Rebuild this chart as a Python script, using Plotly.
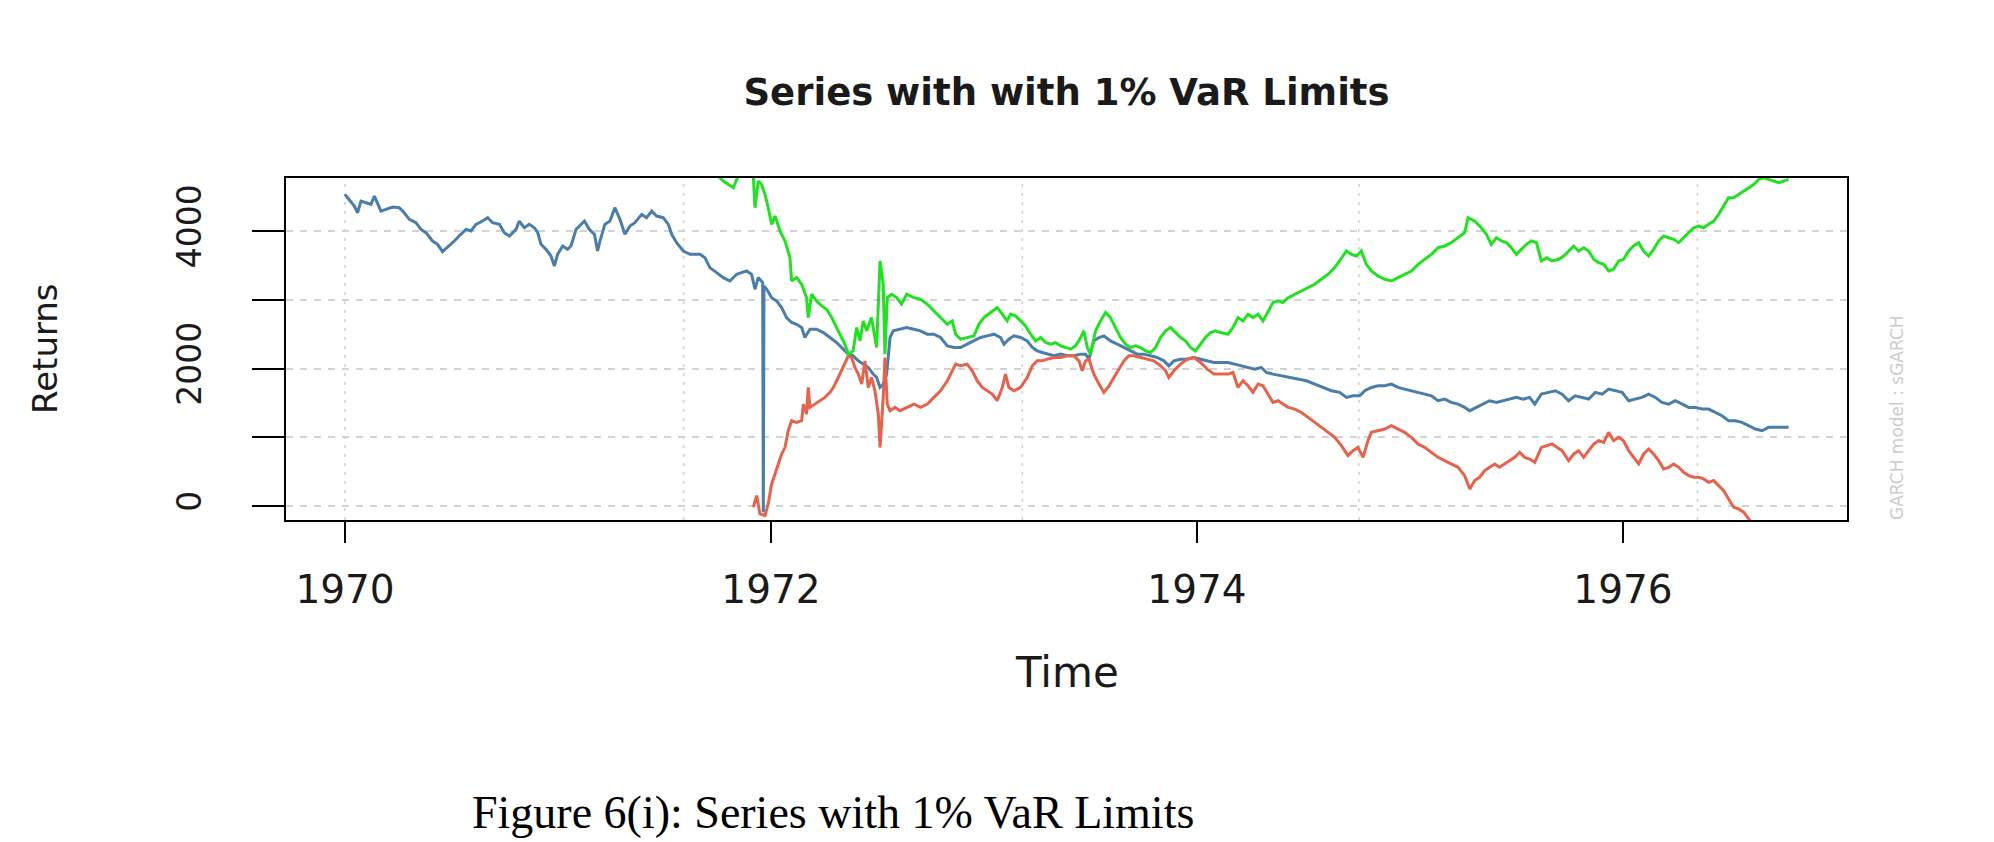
import plotly.graph_objects as go

# ---------------- data ----------------
series_time = [1970.000, 1970.020, 1970.044, 1970.059, 1970.075, 1970.099, 1970.122, 1970.138, 1970.169, 1970.192,
               1970.224, 1970.255, 1970.278, 1970.302, 1970.333, 1970.357, 1970.380, 1970.411, 1970.435, 1970.458,
               1970.490, 1970.513, 1970.536, 1970.568, 1970.591, 1970.615, 1970.646, 1970.670, 1970.693, 1970.725,
               1970.748, 1970.772, 1970.803, 1970.818, 1970.842, 1970.865, 1970.889, 1970.905, 1970.920, 1970.944,
               1970.967, 1970.983, 1970.998, 1971.022, 1971.045, 1971.061, 1971.085, 1971.108, 1971.124, 1971.147,
               1971.171, 1971.186,
               1971.197, 1971.220, 1971.244, 1971.267, 1971.291, 1971.314, 1971.338, 1971.361, 1971.393, 1971.416,
               1971.440, 1971.463, 1971.494, 1971.518, 1971.534, 1971.557, 1971.588, 1971.620, 1971.667, 1971.690,
               1971.713, 1971.745, 1971.776, 1971.807, 1971.839, 1971.862, 1971.886, 1971.909, 1971.925, 1971.940,
               1971.961, 1971.964, 1971.967, 1971.980, 1972.003, 1972.026, 1972.050, 1972.073, 1972.097, 1972.120,
               1972.144, 1972.159, 1972.183, 1972.214, 1972.246, 1972.277, 1972.308, 1972.339, 1972.363, 1972.386,
               1972.410, 1972.433, 1972.457, 1972.480, 1972.496, 1972.512, 1972.527, 1972.543, 1972.559, 1972.574,
               1972.606, 1972.637,
               1972.671, 1972.702, 1972.734, 1972.765, 1972.796, 1972.828, 1972.859, 1972.890, 1972.921, 1972.953,
               1972.984, 1973.015, 1973.047, 1973.078, 1973.094, 1973.117, 1973.141, 1973.172, 1973.203, 1973.227,
               1973.250, 1973.274, 1973.297, 1973.328, 1973.360, 1973.391, 1973.422, 1973.454, 1973.477, 1973.493,
               1973.516, 1973.540, 1973.563, 1973.594, 1973.626, 1973.657, 1973.688, 1973.720, 1973.751, 1973.782,
               1973.813, 1973.845, 1973.868, 1973.892, 1973.923, 1973.954, 1973.986, 1974.017, 1974.048, 1974.080,
               1974.111,
               1974.146, 1974.177, 1974.209, 1974.240, 1974.271, 1974.302, 1974.326, 1974.357, 1974.396, 1974.436,
               1974.475, 1974.514, 1974.553, 1974.592, 1974.631, 1974.670, 1974.702, 1974.733, 1974.764, 1974.788,
               1974.819, 1974.850, 1974.882, 1974.913, 1974.944, 1974.975, 1975.007, 1975.038, 1975.069, 1975.101,
               1975.132, 1975.163, 1975.194, 1975.226, 1975.257, 1975.281, 1975.312, 1975.343, 1975.374, 1975.406,
               1975.437, 1975.468, 1975.500, 1975.531, 1975.562, 1975.586, 1975.617,
               1975.651, 1975.683, 1975.714, 1975.745, 1975.776, 1975.808, 1975.839, 1975.870, 1975.902, 1975.933,
               1975.964, 1975.996, 1976.027, 1976.058, 1976.089, 1976.121, 1976.152, 1976.183, 1976.215, 1976.246,
               1976.277, 1976.309, 1976.340, 1976.371, 1976.402, 1976.434, 1976.465, 1976.496, 1976.528, 1976.559,
               1976.590, 1976.622, 1976.653, 1976.684, 1976.715, 1976.747, 1976.778]
series_values = [4533, 4461, 4364, 4267, 4436, 4412, 4388, 4509, 4291, 4315,
                 4349, 4340, 4267, 4170, 4122, 4025, 3977, 3856, 3808, 3701,
                 3783, 3856, 3928, 4025, 4001, 4098, 4146, 4195, 4122, 4098,
                 3977, 3928, 4025, 4146, 4049, 4098, 4049, 3977, 3808, 3735,
                 3638, 3493, 3662, 3783, 3735, 3783, 4025, 4098, 4146, 4025,
                 3953, 3711,
                 3856, 4098, 4146, 4340, 4170, 3953, 4074, 4122, 4243, 4195,
                 4291, 4219, 4195, 4098, 3953, 3832, 3711, 3662, 3662, 3614,
                 3469, 3396, 3324, 3275, 3372, 3396, 3420, 3372, 3154, 3324,
                 3251, -87, 3203, 3154, 3033, 2985, 2888, 2743, 2671, 2646,
                 2598, 2453, 2574, 2574, 2525, 2453, 2380, 2284, 2211, 2187,
                 2114, 2066, 2017, 1921, 1872, 1727, 1776, 1921, 2453, 2550,
                 2574, 2598,
                 2574, 2550, 2501, 2501, 2453, 2332, 2308, 2308, 2356, 2404,
                 2453, 2477, 2501, 2453, 2356, 2429, 2477, 2453, 2404, 2308,
                 2259, 2235, 2211, 2187, 2211, 2187, 2187, 2211, 2211, 2138,
                 2404, 2453, 2477, 2404, 2356, 2308, 2259, 2211, 2211, 2187,
                 2163, 2114, 2042, 2114, 2138, 2138, 2163, 2138, 2114, 2090,
                 2090,
                 2090, 2066, 2042, 2017, 1993, 2017, 1945, 1921, 1896, 1872,
                 1848, 1824, 1776, 1727, 1679, 1655, 1582, 1606, 1606, 1679,
                 1727, 1751, 1751, 1776, 1727, 1703, 1679, 1655, 1630, 1606,
                 1534, 1558, 1509, 1485, 1437, 1389, 1437, 1485, 1534, 1509,
                 1534, 1558, 1582, 1558, 1582, 1485, 1630,
                 1655, 1679, 1630, 1534, 1606, 1582, 1558, 1655, 1630, 1703,
                 1679, 1655, 1534, 1558, 1582, 1630, 1582, 1509, 1485, 1534,
                 1485, 1437, 1437, 1413, 1413, 1364, 1316, 1243, 1243, 1219,
                 1171, 1122, 1098, 1147, 1147, 1147, 1147]

upper_time = [1971.745, 1971.760, 1971.776, 1971.800, 1971.823, 1971.839, 1971.854, 1971.886, 1971.917, 1971.925,
              1971.940, 1971.956, 1971.972, 1971.987, 1972.003, 1972.019, 1972.042, 1972.066, 1972.089, 1972.097,
              1972.120, 1972.144, 1972.167, 1972.175, 1972.191, 1972.214, 1972.238, 1972.261, 1972.285, 1972.308,
              1972.324, 1972.347, 1972.363, 1972.386, 1972.402, 1972.418, 1972.433, 1972.449, 1972.472, 1972.496,
              1972.512, 1972.527, 1972.535, 1972.546, 1972.566, 1972.590, 1972.613, 1972.637,
              1972.671, 1972.702, 1972.734, 1972.765, 1972.796, 1972.828, 1972.851, 1972.867, 1972.890, 1972.921,
              1972.953, 1972.976, 1973.000, 1973.031, 1973.062, 1973.086, 1973.109, 1973.125, 1973.148, 1973.172,
              1973.195, 1973.219, 1973.242, 1973.266, 1973.289, 1973.313, 1973.336, 1973.360, 1973.383, 1973.407,
              1973.430, 1973.454, 1973.469, 1973.485, 1973.500, 1973.524, 1973.547, 1973.571, 1973.594, 1973.618,
              1973.641, 1973.665, 1973.688, 1973.712, 1973.735, 1973.759, 1973.782, 1973.806, 1973.829, 1973.853,
              1973.876, 1973.900, 1973.923, 1973.946, 1973.970, 1973.993, 1974.017, 1974.040, 1974.064, 1974.087,
              1974.111,
              1974.146, 1974.169, 1974.193, 1974.216, 1974.240, 1974.263, 1974.287, 1974.310, 1974.334, 1974.357,
              1974.381, 1974.404, 1974.428, 1974.459, 1974.490, 1974.522, 1974.553, 1974.584, 1974.615, 1974.647,
              1974.678, 1974.702, 1974.725, 1974.748, 1974.772, 1974.795, 1974.819, 1974.850, 1974.882, 1974.913,
              1974.944, 1974.975, 1975.007, 1975.038, 1975.069, 1975.101, 1975.132, 1975.163, 1975.194, 1975.226,
              1975.257, 1975.273, 1975.304, 1975.335, 1975.359, 1975.382, 1975.406, 1975.429, 1975.453, 1975.476,
              1975.500, 1975.523, 1975.547, 1975.570, 1975.594, 1975.617,
              1975.643, 1975.667, 1975.698, 1975.722, 1975.745, 1975.769, 1975.792, 1975.816, 1975.839, 1975.863,
              1975.886, 1975.910, 1975.933, 1975.956, 1975.980, 1976.003, 1976.027, 1976.050, 1976.074, 1976.097,
              1976.121, 1976.144, 1976.168, 1976.191, 1976.215, 1976.238, 1976.262, 1976.285, 1976.309, 1976.332,
              1976.356, 1976.379, 1976.402, 1976.426, 1976.449, 1976.473, 1976.496, 1976.520, 1976.543, 1976.567,
              1976.590, 1976.614, 1976.637, 1976.661, 1976.684, 1976.708, 1976.731, 1976.755, 1976.778]
upper_values = [5100, 4775, 4727, 4678, 4630, 4751, 4823, 4872, 4799, 4340,
                4727, 4678, 4533, 4340, 4098, 4219, 4001, 3856, 3614, 3275,
                3324, 3227, 3033, 2743, 3082, 2985, 2912, 2864, 2743, 2598,
                2501, 2356, 2211, 2259, 2598, 2404, 2695, 2550, 2743, 2308,
                3566, 3227, 2211, 3033, 3082, 3033, 2937, 3082,
                3033, 3009, 2937, 2840, 2743, 2646, 2695, 2501, 2429, 2453,
                2477, 2646, 2743, 2816, 2888, 2792, 2695, 2792, 2767, 2695,
                2622, 2501, 2404, 2453, 2380, 2356, 2380, 2332, 2308, 2284,
                2332, 2453, 2550, 2308, 2211, 2550, 2695, 2816, 2743, 2598,
                2453, 2356, 2308, 2332, 2308, 2259, 2235, 2308, 2453, 2550,
                2598, 2525, 2453, 2404, 2308, 2259, 2356, 2453, 2525, 2550,
                2525,
                2501, 2598, 2743, 2695, 2792, 2743, 2792, 2695, 2840, 2961,
                2985, 2961, 3033, 3082, 3130, 3179, 3227, 3300, 3372, 3469,
                3614, 3711, 3662, 3638, 3711, 3517, 3420, 3348, 3300, 3275,
                3324, 3372, 3420, 3517, 3590, 3662, 3759, 3783, 3832, 3904,
                3977, 4195, 4146, 4049, 3953, 3808, 3904, 3856, 3832, 3759,
                3662, 3735, 3808, 3856, 3832, 3566,
                3614, 3566, 3590, 3638, 3711, 3783, 3711, 3759, 3711, 3590,
                3541, 3517, 3420, 3445, 3566, 3590, 3711, 3783, 3832, 3711,
                3638, 3735, 3856, 3928, 3904, 3880, 3832, 3904, 3977, 4049,
                4074, 4049, 4098, 4146, 4243, 4364, 4485, 4485, 4533, 4582,
                4630, 4678, 4751, 4775, 4751, 4727, 4703, 4727, 4751]

lower_time = [1971.917, 1971.933, 1971.948, 1971.972, 1971.987, 1972.003, 1972.019, 1972.034, 1972.050, 1972.066,
              1972.081, 1972.097, 1972.120, 1972.144, 1972.152, 1972.167, 1972.175, 1972.183, 1972.206, 1972.230,
              1972.253, 1972.277, 1972.293, 1972.316, 1972.339, 1972.363, 1972.379, 1972.394, 1972.410, 1972.426,
              1972.441, 1972.457, 1972.472, 1972.488, 1972.504, 1972.512, 1972.519, 1972.527, 1972.535, 1972.546,
              1972.559, 1972.582, 1972.606, 1972.637,
              1972.671, 1972.702, 1972.734, 1972.765, 1972.796, 1972.828, 1972.851, 1972.867, 1972.890, 1972.921,
              1972.945, 1972.968, 1972.992, 1973.015, 1973.039, 1973.062, 1973.086, 1973.101, 1973.117, 1973.141,
              1973.172, 1973.203, 1973.227, 1973.250, 1973.274, 1973.297, 1973.328, 1973.360, 1973.391, 1973.422,
              1973.446, 1973.461, 1973.477, 1973.493, 1973.516, 1973.540, 1973.563, 1973.587, 1973.610, 1973.633,
              1973.657, 1973.680, 1973.704, 1973.735, 1973.767, 1973.798, 1973.829, 1973.853, 1973.868, 1973.892,
              1973.923, 1973.954, 1973.986, 1974.017, 1974.048, 1974.080, 1974.111,
              1974.146, 1974.169, 1974.193, 1974.216, 1974.240, 1974.263, 1974.287, 1974.310, 1974.334, 1974.357,
              1974.381, 1974.404, 1974.428, 1974.459, 1974.490, 1974.522, 1974.553, 1974.584, 1974.615, 1974.647,
              1974.678, 1974.709, 1974.733, 1974.756, 1974.780, 1974.803, 1974.819, 1974.850, 1974.882, 1974.913,
              1974.944, 1974.975, 1975.007, 1975.038, 1975.069, 1975.101, 1975.132, 1975.163, 1975.194, 1975.226,
              1975.257, 1975.281, 1975.304, 1975.327, 1975.351, 1975.374, 1975.398, 1975.421, 1975.445, 1975.468,
              1975.492, 1975.515, 1975.539, 1975.562, 1975.586, 1975.617,
              1975.643, 1975.667, 1975.690, 1975.714, 1975.745, 1975.769, 1975.792, 1975.816, 1975.839, 1975.863,
              1975.886, 1975.910, 1975.933, 1975.956, 1975.980, 1976.003, 1976.027, 1976.050, 1976.074, 1976.097,
              1976.121, 1976.144, 1976.168, 1976.191, 1976.215, 1976.238, 1976.262, 1976.285, 1976.309, 1976.332,
              1976.356, 1976.379, 1976.402, 1976.426, 1976.449, 1976.473, 1976.496, 1976.520, 1976.543, 1976.567,
              1976.590, 1976.622, 1976.684, 1976.778]
lower_values = [-15, 155, -111, -135, 34, 324, 469, 614, 760, 856,
                1098, 1243, 1219, 1243, 1485, 1340, 1727, 1437, 1485, 1534,
                1582, 1655, 1727, 1872, 2017, 2187, 2163, 2017, 1921, 1776,
                2114, 1727, 1872, 1679, 1340, 856, 1195, 1582, 2163, 1485,
                1389, 1437, 1389, 1437,
                1485, 1437, 1485, 1582, 1679, 1824, 1969, 2066, 2042, 2066,
                1969, 1824, 1727, 1679, 1630, 1534, 1727, 1921, 1727, 1679,
                1727, 1872, 2042, 2114, 2114, 2138, 2163, 2163, 2187, 2187,
                2114, 1969, 2114, 2138, 1921, 1776, 1655, 1751, 1872, 1993,
                2114, 2187, 2187, 2163, 2138, 2114, 2042, 1969, 1872, 1969,
                2066, 2138, 2163, 2090, 1993, 1921, 1921,
                1921, 1945, 1727, 1824, 1751, 1655, 1776, 1751, 1630, 1509,
                1534, 1485, 1437, 1413, 1364, 1292, 1219, 1147, 1074, 1001,
                881, 735, 808, 856, 711, 953, 1074, 1098, 1122, 1171,
                1122, 1074, 1001, 905, 856, 784, 711, 663, 614, 566,
                445, 252, 373, 421, 518, 566, 614, 566, 614, 663,
                711, 784, 711, 687, 639, 856,
                881, 905, 856, 808, 663, 760, 808, 711, 808, 905,
                953, 929, 1074, 953, 1001, 953, 808, 711, 614, 760,
                832, 760, 663, 542, 566, 614, 566, 493, 445, 421,
                421, 397, 348, 373, 300, 227, 106, -15, -39, -87,
                -184, -300, -380, -420]

x_tick_years = [1970, 1972, 1974, 1976]
x_tick_labels = ["1970", "1972", "1974", "1976"]
y_tick_values = [0, 1000, 2000, 3000, 4000]
y_tick_labels = ["0", "", "2000", "", "4000"]
grid_years = [1970.0, 1971.59, 1973.18, 1974.76, 1976.35]

# ---------------- figure ----------------
SANS = "DejaVu Sans"
INK = "#1a1a1a"

fig = go.Figure()
fig.add_trace(go.Scatter(x=series_time, y=series_values, mode="lines", name="Series",
                         line=dict(color="#4A7EA8", width=3)))
fig.add_trace(go.Scatter(x=lower_time, y=lower_values, mode="lines", name="1% VaR (lower)",
                         line=dict(color="#E5624C", width=3)))
fig.add_trace(go.Scatter(x=upper_time, y=upper_values, mode="lines", name="1% VaR (upper)",
                         line=dict(color="#22E022", width=3)))

for g in grid_years:
    fig.add_shape(type="line", xref="x", yref="paper", x0=g, x1=g, y0=0, y1=1,
                  layer="below", line=dict(color="#D3D3D3", width=1.6, dash="3px,6px"))

fig.update_layout(
    template="none",
    width=1994, height=842,
    margin=dict(l=286, r=147, t=178, b=322, autoexpand=False),
    paper_bgcolor="white", plot_bgcolor="white",
    showlegend=False,
    font=dict(family=SANS, color=INK),
    title=dict(text="Series with with 1% VaR Limits", x=0.5, xref="paper", xanchor="center",
               y=1 - 92 / 842, yref="container", yanchor="middle",
               font=dict(family=SANS, size=37, color=INK, weight="bold")),
)

fig.update_xaxes(
    range=[1969.723, 1977.052], tickmode="array", tickvals=x_tick_years, ticktext=x_tick_labels,
    ticks="outside", ticklen=21, tickwidth=2, tickcolor="black",
    showline=True, mirror=True, linewidth=2, linecolor="black",
    showgrid=False, zeroline=False, automargin=False,
    tickfont=dict(family=SANS, size=39, color=INK), ticklabelstandoff=13,
)
fig.update_yaxes(
    range=[-200, 4772], tickmode="array", tickvals=y_tick_values, ticktext=y_tick_labels,
    tickangle=-90, ticks="outside", ticklen=32, tickwidth=2, tickcolor="black",
    showline=True, mirror=True, linewidth=2, linecolor="black",
    showgrid=True, gridcolor="#D3D3D3", gridwidth=1.6, griddash="7px,7px",
    zeroline=False, automargin=False,
    tickfont=dict(family=SANS, size=33, color=INK), ticklabelstandoff=38,
)

fig.add_annotation(text="Time", xref="paper", yref="paper", x=0.5, y=-0.447,
                   xanchor="center", yanchor="middle", showarrow=False,
                   font=dict(family=SANS, size=42, color=INK))
fig.add_annotation(text="Returns", xref="paper", yref="paper", x=-0.1544, y=0.503,
                   xanchor="center", yanchor="middle", showarrow=False, textangle=-90,
                   font=dict(family=SANS, size=34, color=INK))
fig.add_annotation(text="GARCH model : sGARCH", xref="paper", yref="paper", x=1.032, y=0.301,
                   xanchor="center", yanchor="middle", showarrow=False, textangle=-90,
                   font=dict(family=SANS, size=17, color="#CCCCCC"))
fig.add_annotation(text="Figure 6(i): Series with 1% VaR Limits", xref="paper", yref="paper",
                   x=0.3504, y=-0.936, xanchor="center", yanchor="bottom", showarrow=False,
                   font=dict(family="Liberation Serif", size=46, color="black"))

fig.write_html("out.html")
